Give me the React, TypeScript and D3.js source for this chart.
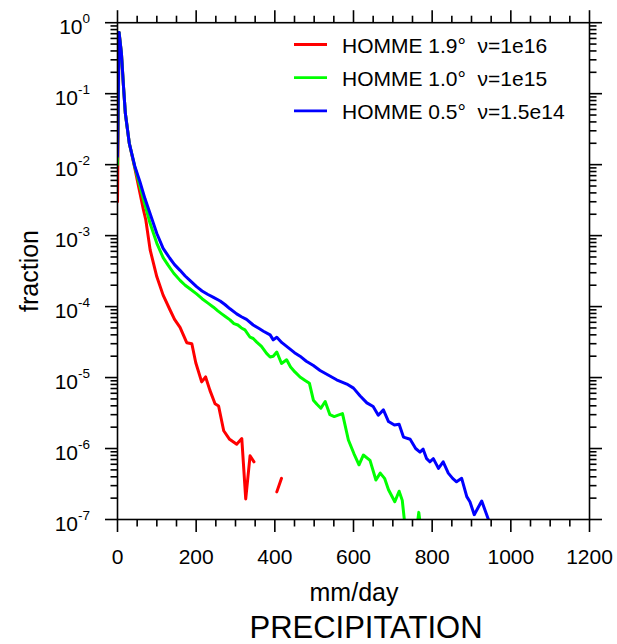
import React from 'react';
import * as d3 from 'd3';

const xTickValues = [0, 200, 400, 600, 800, 1000, 1200];
const yExponents = [0, -1, -2, -3, -4, -5, -6, -7];

const seriesNames = ['HOMME 1.9°', 'HOMME 1.0°', 'HOMME 0.5°'];
const seriesNu = ['ν=1e16', 'ν=1e15', 'ν=1.5e14'];
const seriesColors = ['#ff0000', '#00ff00', '#0000ff'];

// null = zero fraction (missing on a log axis)
const redX = [0, 4, 10, 15, 20, 30, 44, 57, 66, 72, 83, 100, 116, 133, 145, 159, 176, 189, 199, 214, 224, 235, 248, 257, 270, 285, 303, 316, 326, 337, 347, 358, 394, 405, 417, 428];
const redY: (number | null)[] = [3.0e-3, 0.73, 0.37, 0.132, 0.0525, 0.02, 8.9e-3, 4.0e-3, 2.3e-3, 1.66e-3, 6.3e-4, 2.63e-4, 1.45e-4, 9.1e-5, 6.6e-5, 5.1e-5, 3.1e-5, 3.0e-5, 1.62e-5, 8.7e-6, 1.02e-5, 6.6e-6, 4.27e-6, 3.98e-6, 1.78e-6, 1.35e-6, 1.15e-6, 1.38e-6, 1.95e-7, 7.9e-7, 6.5e-7, null, null, 2.45e-7, 3.8e-7, null];

const greenX = [0, 4, 10, 15, 20, 30, 44, 57, 70, 83, 100, 116, 129, 143, 159, 172, 184, 201, 215, 230, 244, 255, 265, 275, 286, 296, 306, 315, 324, 337, 345, 354, 366, 379, 388, 396, 405, 417, 430, 440, 451, 464, 477, 488, 498, 507, 517, 528, 540, 551, 561, 572, 587, 601, 614, 625, 642, 657, 668, 679, 689, 705, 716, 724, 735, 752, 766, 780];
const greenY = [1.0e-2, 0.73, 0.37, 0.132, 0.0525, 0.02, 9.3e-3, 5.0e-3, 2.7e-3, 1.48e-3, 7.8e-4, 4.9e-4, 3.8e-4, 2.95e-4, 2.34e-4, 2.0e-4, 1.78e-4, 1.51e-4, 1.29e-4, 1.12e-4, 9.8e-5, 8.7e-5, 7.9e-5, 7.2e-5, 6.5e-5, 5.75e-5, 5.5e-5, 5.0e-5, 4.7e-5, 3.7e-5, 3.55e-5, 3.16e-5, 2.75e-5, 2.19e-5, 1.95e-5, 2.0e-5, 2.29e-5, 1.58e-5, 1.78e-5, 1.41e-5, 1.2e-5, 1.02e-5, 9.1e-6, 8.3e-6, 4.8e-6, 4.2e-6, 3.7e-6, 4.6e-6, 3.0e-6, 2.82e-6, 2.95e-6, 3.1e-6, 1.32e-6, 8.5e-7, 5.9e-7, 8.1e-7, 6.8e-7, 3.6e-7, 4.5e-7, 3.8e-7, 2.63e-7, 1.78e-7, 2.5e-7, 1.86e-7, 5e-8, 3e-8, 1.26e-7, 3e-8];

const blueX = [0, 4, 10, 15, 20, 30, 44, 57, 70, 83, 100, 116, 133, 145, 159, 172, 184, 201, 215, 230, 244, 261, 273, 286, 303, 315, 328, 345, 360, 371, 388, 396, 405, 418, 430, 450, 464, 480, 498, 515, 540, 557, 583, 600, 617, 634, 650, 663, 676, 689, 704, 716, 727, 744, 758, 769, 777, 786, 794, 803, 816, 828, 841, 852, 862, 875, 888, 896, 907, 926, 943, 955];
const blueY = [1.3e-2, 0.73, 0.37, 0.132, 0.0525, 0.02, 9.5e-3, 5.75e-3, 3.3e-3, 2.04e-3, 1.07e-3, 6.6e-4, 4.8e-4, 3.9e-4, 3.24e-4, 2.7e-4, 2.34e-4, 1.91e-4, 1.66e-4, 1.48e-4, 1.35e-4, 1.2e-4, 1.07e-4, 9.3e-5, 7.9e-5, 7.2e-5, 6.6e-5, 5.5e-5, 4.9e-5, 4.5e-5, 4.0e-5, 3.4e-5, 3.7e-5, 3.1e-5, 2.75e-5, 2.24e-5, 2.0e-5, 1.7e-5, 1.48e-5, 1.26e-5, 1.05e-5, 9.3e-6, 8.1e-6, 7.1e-6, 5.5e-6, 4.4e-6, 3.9e-6, 2.95e-6, 3.5e-6, 2.4e-6, 2.14e-6, 2.2e-6, 1.45e-6, 1.35e-6, 1.0e-6, 8.9e-7, 9.8e-7, 7.2e-7, 6.5e-7, 7.2e-7, 5.25e-7, 6.5e-7, 4.5e-7, 3.8e-7, 3.4e-7, 3.8e-7, 2.1e-7, 1.78e-7, 1.17e-7, 1.82e-7, 1.0e-7, 4e-8];

const FONT = '"Liberation Sans", Arial, Helvetica, sans-serif';

export default function App() {
  const left = 117.5, right = 589.5, top = 22.7, bottom = 519.5;
  const x = d3.scaleLinear().domain([0, 1200]).range([left, right]);
  const y = d3.scaleLog().domain([1e-7, 1]).range([bottom, top]);

  const series = [
    { xs: redX, ys: redY },
    { xs: greenX, ys: greenY },
    { xs: blueX, ys: blueY },
  ];

  const line = d3
    .line<[number, number | null]>()
    .defined((d) => d[1] != null && (d[1] as number) > 0)
    .x((d) => x(d[0]))
    .y((d) => y(d[1] as number));

  const minorX = d3.range(0, 1201, 50).filter((v) => v % 200 !== 0);
  const minorY: number[] = [];
  yExponents.slice(1).forEach((e) => {
    for (let k = 2; k <= 9; k++) minorY.push(k * Math.pow(10, e));
  });

  const majLen = 12.5, minLen = 7;
  const stroke = '#000';
  const sw = 1.6;

  return (
    <svg width={617} height={644} style={{ position: 'absolute', left: 0, top: 0, background: '#fff' }} fontFamily={FONT}>
      <defs>
        <clipPath id="plotclip">
          <rect x={left} y={top} width={right - left} height={bottom - top} />
        </clipPath>
      </defs>
      <rect x={0} y={0} width={617} height={644} fill="#fff" />

      {/* data */}
      <g clipPath="url(#plotclip)">
        {series.map((s, i) => (
          <path
            key={i}
            d={line(s.xs.map((v, j) => [v, s.ys[j]] as [number, number | null])) || ''}
            fill="none"
            stroke={seriesColors[i]}
            strokeWidth={3}
            strokeLinejoin="round"
            strokeLinecap="round"
          />
        ))}
      </g>

      {/* frame */}
      <rect x={left} y={top} width={right - left} height={bottom - top} fill="none" stroke={stroke} strokeWidth={sw} />

      {/* x ticks bottom and top */}
      {xTickValues.map((v) => (
        <g key={'xM' + v}>
          <line x1={x(v)} x2={x(v)} y1={bottom} y2={bottom + majLen} stroke={stroke} strokeWidth={sw} />
          <line x1={x(v)} x2={x(v)} y1={top} y2={top - majLen} stroke={stroke} strokeWidth={sw} />
          <text x={x(v)} y={564} fontSize={21} textAnchor="middle" fill="#000">
            {v}
          </text>
        </g>
      ))}
      {minorX.map((v) => (
        <g key={'xm' + v}>
          <line x1={x(v)} x2={x(v)} y1={bottom} y2={bottom + minLen} stroke={stroke} strokeWidth={sw} />
          <line x1={x(v)} x2={x(v)} y1={top} y2={top - minLen} stroke={stroke} strokeWidth={sw} />
        </g>
      ))}

      {/* y ticks left and right */}
      {yExponents.map((e) => {
        const yy = y(Math.pow(10, e));
        return (
          <g key={'yM' + e}>
            <line x1={left} x2={left - majLen} y1={yy} y2={yy} stroke={stroke} strokeWidth={sw} />
            <line x1={right} x2={right + majLen} y1={yy} y2={yy} stroke={stroke} strokeWidth={sw} />
            <text x={90} y={yy + 11} fontSize={21} textAnchor="end" fill="#000">
              10
              <tspan dy={-11} fontSize={13.5}>
                {String(e)}
              </tspan>
            </text>
          </g>
        );
      })}
      {minorY.map((v, i) => (
        <g key={'ym' + i}>
          <line x1={left} x2={left - minLen} y1={y(v)} y2={y(v)} stroke={stroke} strokeWidth={sw} />
          <line x1={right} x2={right + minLen} y1={y(v)} y2={y(v)} stroke={stroke} strokeWidth={sw} />
        </g>
      ))}

      {/* axis titles */}
      <text x={354} y={601} fontSize={25} textAnchor="middle" fill="#000">
        mm/day
      </text>
      <text x={366} y={638} fontSize={31} textAnchor="middle" fill="#000">
        PRECIPITATION
      </text>
      <text transform={`translate(38,271) rotate(-90)`} fontSize={25} textAnchor="middle" fill="#000">
        fraction
      </text>

      {/* legend */}
      {seriesNames.map((n, i) => {
        const ly = 44.5 + i * 33.2;
        return (
          <g key={'lg' + i}>
            <line x1={294} x2={327} y1={ly} y2={ly} stroke={seriesColors[i]} strokeWidth={2.8} />
            <text x={342} y={ly + 8.5} fontSize={21} fill="#000" style={{ whiteSpace: 'pre' }}>
              {n + '  ' + seriesNu[i]}
            </text>
          </g>
        );
      })}
    </svg>
  );
}
